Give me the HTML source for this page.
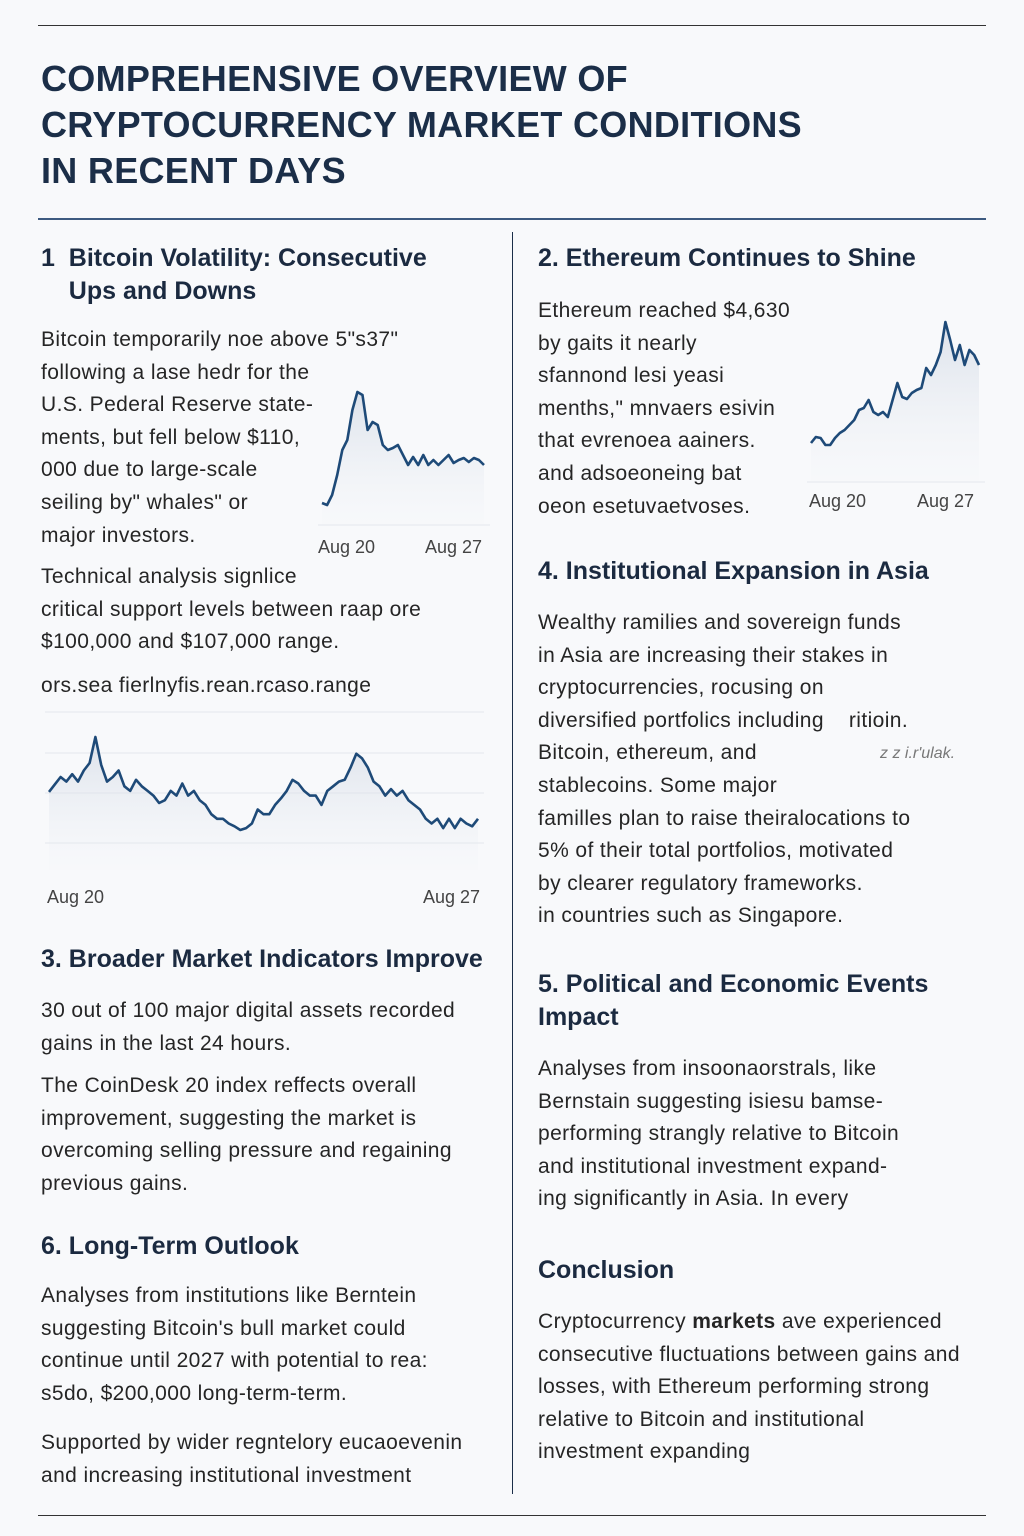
<!DOCTYPE html>
<html><head><meta charset="utf-8">
<style>
html,body{margin:0;padding:0}
body{width:1024px;height:1536px;position:relative;background:#f8f9fb;font-family:"Liberation Sans",sans-serif;color:#222;overflow:hidden}
.t{position:absolute;left:41px;font-weight:bold;font-size:36px;color:#1b2e48;line-height:46px;letter-spacing:0.3px}
.h{position:absolute;font-weight:bold;font-size:25px;color:#1b2a40;line-height:33px}
.b{position:absolute;font-size:21px;line-height:32.6px;color:#252525;white-space:nowrap;letter-spacing:0.4px}
.ax{position:absolute;font-size:18px;color:#444}
.rule{position:absolute;background:#1b2e48}
svg{position:absolute;left:0;top:0}
</style></head>
<body>
<div class="rule" style="left:38px;top:25px;width:948px;height:1px;background:#333"></div>
<div class="t" style="top:56px">COMPREHENSIVE OVERVIEW OF<br>CRYPTOCURRENCY MARKET CONDITIONS<br>IN RECENT DAYS</div>
<div class="rule" style="left:38px;top:218px;width:948px;height:2px;background:#3d5a80"></div>
<div class="rule" style="left:512px;top:232px;width:1px;height:1262px;background:#1b2e48"></div>
<div class="rule" style="left:38px;top:1515px;width:948px;height:1px;background:#333"></div>

<div class="h" style="left:41px;top:242px">1&nbsp; Bitcoin Volatility: Consecutive<br>&nbsp;&nbsp;&nbsp;&nbsp;Ups and Downs</div>
<div class="b" style="left:41px;top:324px">Bitcoin temporarily noe above 5"s37"<br>following a lase hedr for the<br>U.S. Pederal Reserve state-<br>ments, but fell below $110,<br>000 due to large-scale<br>seiling by" whales" or<br>major investors.</div>
<div class="ax" style="left:318px;top:537px">Aug 20</div>
<div class="ax" style="left:425px;top:537px">Aug 27</div>
<div class="b" style="left:41px;top:561px">Technical analysis signlice<br>critical support levels between raap ore<br>$100,000 and $107,000 range.</div>
<div class="b" style="left:41px;top:670px">ors.sea fierlnyfis.rean.rcaso.range</div>
<div class="ax" style="left:47px;top:887px">Aug 20</div>
<div class="ax" style="left:423px;top:887px">Aug 27</div>

<div class="h" style="left:41px;top:943px">3. Broader Market Indicators Improve</div>
<div class="b" style="left:41px;top:995px">30 out of 100 major digital assets recorded<br>gains in the last 24 hours.</div>
<div class="b" style="left:41px;top:1070px">The CoinDesk 20 index reffects overall<br>improvement, suggesting the market is<br>overcoming selling pressure and regaining<br>previous gains.</div>
<div class="h" style="left:41px;top:1230px">6. Long-Term Outlook</div>
<div class="b" style="left:41px;top:1280px">Analyses from institutions like Berntein<br>suggesting Bitcoin's bull market could<br>continue until 2027 with potential to rea:<br>s5do, $200,000 long-term-term.</div>
<div class="b" style="left:41px;top:1427px">Supported by wider regntelory eucaoevenin<br>and increasing institutional investment</div>

<div class="h" style="left:538px;top:242px">2. Ethereum Continues to Shine</div>
<div class="b" style="left:538px;top:295px">Ethereum reached $4,630<br>by gaits it nearly<br>sfannond lesi yeasi<br>menths," mnvaers esivin<br>that evrenoea aainers.<br>and adsoeoneing bat<br>oeon esetuvaetvoses.</div>
<div class="ax" style="left:809px;top:491px">Aug 20</div>
<div class="ax" style="left:917px;top:491px">Aug 27</div>
<div class="h" style="left:538px;top:555px">4. Institutional Expansion in Asia</div>
<div class="b" style="left:538px;top:607px">Wealthy ramilies and sovereign funds<br>in Asia are increasing their stakes in<br>cryptocurrencies, rocusing on<br>diversified portfolics including &nbsp;&nbsp;&nbsp;ritioin.<br>Bitcoin, ethereum, and<br>stablecoins. Some major<br>familles plan to raise theiralocations to<br>5% of their total portfolios, motivated<br>by clearer regulatory frameworks.<br>in countries such as Singapore.</div>
<div class="ax" style="left:880px;top:745px;font-style:italic;color:#777;font-size:16px">z z i.r'ulak.</div>
<div class="h" style="left:538px;top:968px">5. Political and Economic Events<br>Impact</div>
<div class="b" style="left:538px;top:1053px">Analyses from insoonaorstrals, like<br>Bernstain suggesting isiesu bamse-<br>performing strangly relative to Bitcoin<br>and institutional investment expand-<br>ing significantly in Asia. In every</div>
<div class="h" style="left:538px;top:1254px">Conclusion</div>
<div class="b" style="left:538px;top:1306px">Cryptocurrency <b>markets</b> ave experienced<br>consecutive fluctuations between gains and<br>losses, with Ethereum performing strong<br>relative to Bitcoin and institutional<br>investment expanding</div>

<svg id="charts" width="1024" height="1536">
<defs>
<linearGradient id="fg" x1="0" y1="0" x2="0" y2="1"><stop offset="0" stop-color="#c9d2e0" stop-opacity="0.6"/><stop offset="1" stop-color="#eef1f6" stop-opacity="0.1"/></linearGradient>
</defs>
</svg>
<script>
const btcSmall=[100.4,100,102,106,111,113,119,122.6,122,115,116.6,116,112,111,111.4,112,110,108,109.6,108,110,108,109,108,109,110,108.4,109,109.4,108.6,109.4,109,108];
const ethValues=[4010,4040,4035,4000,4000,4035,4060,4075,4100,4125,4175,4185,4225,4165,4150,4165,4140,4225,4310,4240,4230,4260,4275,4285,4385,4350,4400,4465,4615,4525,4425,4500,4400,4475,4450,4400];
const btcBig=[111.4,112.2,113.0,112.5,113.3,112.5,113.7,114.5,117.3,114.3,112.5,113.0,113.7,112.0,111.5,112.7,112.0,111.5,111.0,110.2,110.5,111.5,111.0,112.3,111.0,111.5,110.5,110.0,109.0,108.5,108.5,108.0,107.7,107.3,107.5,108.0,109.5,109.0,109.0,110.0,110.7,111.5,112.7,112.3,111.5,111.0,111.0,110.0,111.5,112.0,112.5,112.7,114.0,115.5,115.0,114.0,112.5,112.0,111.0,111.7,111.0,111.5,110.5,110.0,109.5,108.5,108.0,108.5,107.5,108.5,107.5,108.5,108.0,107.7,108.5];
const NS='http://www.w3.org/2000/svg';
const svg=document.getElementById('charts');
function draw(name,vals,x0,x1,vMin,vMax,yBot,yTop,base,grids){
  const g=document.createElementNS(NS,'g');
  
  
  const xs=i=>x0+(x1-x0)*i/(vals.length-1);
  const ys=v=>yBot-(v-vMin)/(vMax-vMin)*(yBot-yTop);
  grids.forEach(gy=>{const l=document.createElementNS(NS,'line');
    
    
    l.setAttribute('x1',x0-4);l.setAttribute('x2',x1+6);l.setAttribute('y1',gy);l.setAttribute('y2',gy);
    l.setAttribute('stroke','#e4e7ec');l.setAttribute('stroke-width','1');g.appendChild(l);});
  let d=vals.map((v,i)=>(i?'L':'M')+xs(i).toFixed(1)+','+ys(v).toFixed(1)).join('');
  const a=document.createElementNS(NS,'path');
  
  
  a.setAttribute('d',d+'L'+x1+','+base+'L'+x0+','+base+'Z');a.setAttribute('fill','url(#fg)');g.appendChild(a);
  const p=document.createElementNS(NS,'path');
  
  
  p.setAttribute('d',d);p.setAttribute('fill','none');p.setAttribute('stroke','#1e4a78');p.setAttribute('stroke-width','2.6');p.setAttribute('stroke-linejoin','round');g.appendChild(p);
  svg.appendChild(g);
}
draw('btc-small-chart',btcSmall,322,484,100,123,505,390,525,[525]);
draw('eth-chart',ethValues,811,979,4000,4615,445,322,482,[482]);
draw('btc-big-chart',btcBig,49,478,107.3,117.3,830,737,870,[712,753,793,843]);
</script>
</body></html>
